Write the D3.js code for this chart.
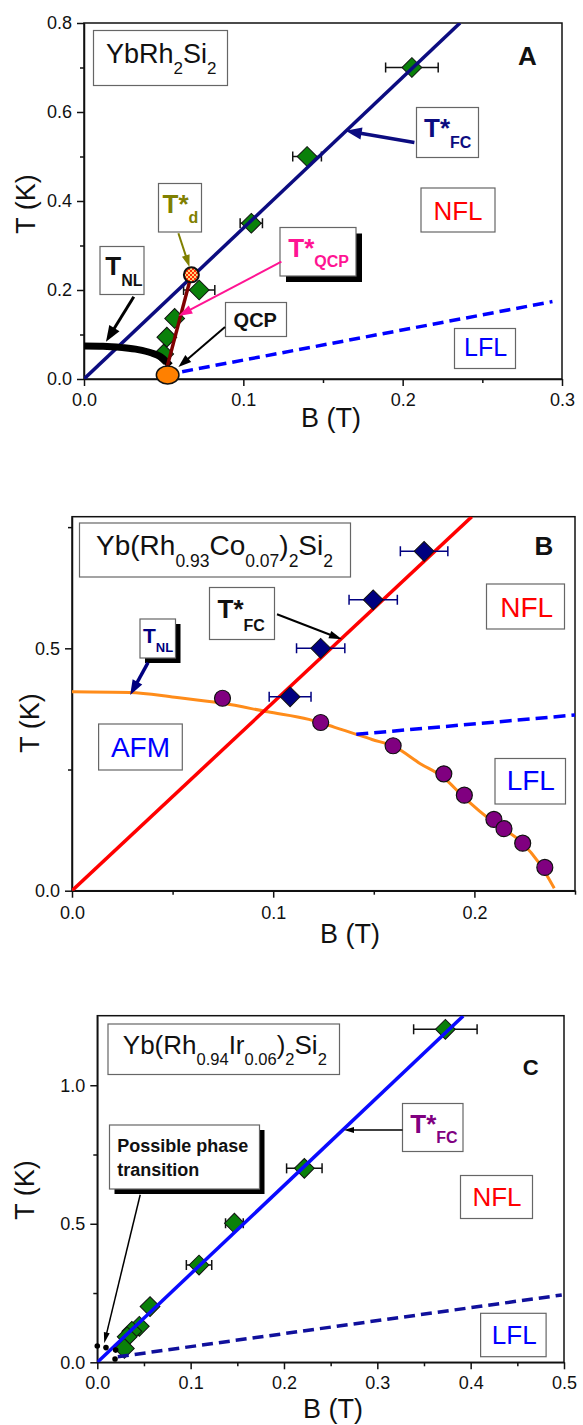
<!DOCTYPE html>
<html><head><meta charset="utf-8">
<script src="https://cdn.jsdelivr.net/npm/d3@7"></script>
<style>
body{margin:0;background:#fff}
svg{display:block}
text{font-family:"Liberation Sans",Arial,Helvetica,sans-serif}
</style>
</head><body>
<svg id="c" width="583" height="1425"></svg>
<script>
// ---------------- DATA ----------------
// Panel A : YbRh2Si2
const aTickX=[0,0.1,0.2,0.3], aMinorX=[0.05,0.15,0.25];
const aTickY=[0,0.2,0.4,0.6,0.8], aMinorY=[0.1,0.3,0.5,0.7];
const aFieldB=[0.2058,0.140,0.105,0.0723,0.0569,0.052,0.050];
const aTempT =[0.70,0.50,0.35,0.20,0.136,0.094,0.056];
const aErrB  =[0.0165,0.009,0.007,0.0098,0,0,0];
const aFcLine=[[0,0],[0.236,0.8]];
const aTnlCurve=[[0,0.074],[0.012,0.0735],[0.024,0.0705],[0.034,0.066],[0.042,0.059],[0.048,0.05],[0.052,0.038],[0.054,0.03]];
const aQcpLine=[[0.052,0.025],[0.0674,0.234]];
const aLflLine=[[0.0616,0.0165],[0.294,0.174]];
const aQcpPoint=[0.0525,0.009];
const aTdPoint=[0.0674,0.234];

// Panel B : Yb(Rh0.93Co0.07)2Si2
const bTickX=[0,0.1,0.2], bMinorX=[0.05,0.15,0.25];
const bTickY=[0,0.5], bMinorY=[0.25,0.75];
const bFieldB=[0.1084,0.1236,0.1497,0.175];
const bTempT =[0.40,0.50,0.60,0.70];
const bErrB  =[0.0104,0.012,0.012,0.0118];
const bFcLine=[[0,0],[0.1987,0.7715]];
const bAfmB=[0.0748,0.1236,0.1596,0.1848,0.195,0.2097,0.2147,0.224,0.235];
const bAfmT=[0.397,0.347,0.299,0.241,0.197,0.147,0.128,0.098,0.048];
const bTnlCurve=[[0,0.4105],[0.0289,0.409],[0.0511,0.399],[0.0751,0.3865],[0.0973,0.369],[0.1177,0.3535],[0.1306,0.337],[0.1491,0.312],[0.1602,0.297],[0.1731,0.262],[0.1842,0.235],[0.1953,0.1905],[0.2101,0.139],[0.2231,0.101],[0.2323,0.0565],[0.2397,0.005]];
const bLflLine=[[0.1413,0.3226],[0.25,0.3624]];

// Panel C : Yb(Rh0.94Ir0.06)2Si2
const cTickX=[0,0.1,0.2,0.3,0.4,0.5], cMinorX=[0.05,0.15,0.25,0.35,0.45];
const cTickY=[0,0.5,1.0], cMinorY=[0.25,0.75];
const cFieldB=[0.3729,0.2218,0.1469,0.109,0.0565,0.045,0.037,0.032,0.029];
const cTempT =[1.202,0.700,0.502,0.351,0.201,0.130,0.112,0.092,0.050];
const cErrB  =[0.034,0.019,0.0095,0.0136,0,0,0,0,0];
const cFcLine=[[0,0],[0.392,1.25]];
const cLflLine=[[0.022,0.02],[0.4976,0.243]];
const cDotB=[0,0.0093,0.0197,0.019];
const cDotT=[0.059,0.053,0.044,0.012];

// ---------------- HELPERS ----------------
const svg=d3.select('#c');
const defs=svg.append('defs');
const pat=defs.append('pattern').attr('id','chk').attr('width',4).attr('height',4).attr('patternUnits','userSpaceOnUse');
pat.append('rect').attr('width',4).attr('height',4).attr('fill','#ffd27a');
pat.append('rect').attr('width',2).attr('height',2).attr('fill','#ff2a00');
pat.append('rect').attr('x',2).attr('y',2).attr('width',2).attr('height',2).attr('fill','#ff2a00');

const fmt=d3.format('.1f');

function makePanel(p){
  const x=d3.scaleLinear().domain(p.xDom).range(p.xRng);
  const y=d3.scaleLinear().domain(p.yDom).range(p.yRng);
  const g=svg.append('g');
  const cid='clip'+p.id;
  defs.append('clipPath').attr('id',cid).append('rect')
    .attr('x',p.xRng[0]).attr('y',p.yRng[1]).attr('width',p.xRng[1]-p.xRng[0]).attr('height',p.yRng[0]-p.yRng[1]);
  const ax=g.append('g').attr('transform',`translate(0,${p.yRng[0]})`)
    .call(d3.axisBottom(x).tickValues(p.tickX).tickFormat(fmt).tickSize(7).tickSizeOuter(0).tickPadding(p.xPad));
  const axm=g.append('g').attr('transform',`translate(0,${p.yRng[0]})`)
    .call(d3.axisBottom(x).tickValues(p.minorX).tickFormat('').tickSize(4).tickSizeOuter(0));
  axm.select('.domain').remove();
  const ay=g.append('g').attr('transform',`translate(${p.xRng[0]},0)`)
    .call(d3.axisLeft(y).tickValues(p.tickY).tickFormat(fmt).tickSize(7).tickSizeOuter(0).tickPadding(5));
  const aym=g.append('g').attr('transform',`translate(${p.xRng[0]},0)`)
    .call(d3.axisLeft(y).tickValues(p.minorY).tickFormat('').tickSize(4).tickSizeOuter(0));
  aym.select('.domain').remove();
  [ax,axm,ay,aym].forEach(a=>{
    a.attr('color','#111');
    a.selectAll('line,path').attr('stroke-width',1.5);
    a.selectAll('text').attr('font-size',18);
  });
  g.append('rect').attr('x',p.xRng[0]).attr('y',p.yRng[1]).attr('width',p.xRng[1]-p.xRng[0]).attr('height',p.yRng[0]-p.yRng[1])
    .attr('fill','none').attr('stroke','#111').attr('stroke-width',1.5);
  g.append('text').attr('x',p.xt[0]).attr('y',p.xt[1]).attr('text-anchor','middle').attr('font-size',27).attr('fill','#111').text('B (T)');
  g.append('text').attr('transform',`translate(${p.yt[0]},${p.yt[1]}) rotate(-90)`).attr('text-anchor','middle').attr('font-size',27).attr('fill','#111').text('T (K)');
  const plot=g.append('g').attr('clip-path',`url(#${cid})`);
  return {x,y,g,plot};
}
const line=(P)=>d3.line().x(d=>P.x(d[0])).y(d=>P.y(d[1]));
const curve=(P)=>d3.line().curve(d3.curveMonotoneX).x(d=>P.x(d[0])).y(d=>P.y(d[1]));

function diamonds(P,B,T,E,fill,errColor){
  const gg=P.plot.append('g');
  B.forEach((b,i)=>{
    if(E[i]>0){
      const x0=P.x(b-E[i]),x1=P.x(b+E[i]),yy=P.y(T[i]);
      gg.append('line').attr('x1',x0).attr('x2',x1).attr('y1',yy).attr('y2',yy).attr('stroke',errColor).attr('stroke-width',1.5);
      [x0,x1].forEach(xx=>gg.append('line').attr('x1',xx).attr('x2',xx).attr('y1',yy-5).attr('y2',yy+5).attr('stroke',errColor).attr('stroke-width',1.5));
    }
  });
  const sym=d3.symbol().type(d3.symbolSquare).size(196);
  B.forEach((b,i)=>{
    gg.append('path').attr('d',sym()).attr('transform',`translate(${P.x(b)},${P.y(T[i])}) rotate(45)`)
      .attr('fill',fill).attr('stroke','#111').attr('stroke-width',1);
  });
}
function box(g,b,shadow){
  if(shadow) g.append('rect').attr('x',b[0]+shadow).attr('y',b[1]+shadow).attr('width',b[2]).attr('height',b[3]).attr('fill','#000');
  g.append('rect').attr('x',b[0]).attr('y',b[1]).attr('width',b[2]).attr('height',b[3]).attr('fill','#fff').attr('stroke','#666').attr('stroke-width',1.2);
}
function rich(g,x,y,parts,color,weight,sub){
  const t=g.append('text').attr('x',x).attr('y',y).attr('fill',color).attr('font-weight',weight||'normal');
  let prev=0;
  parts.forEach(p=>{
    const off=p[2]?sub:0;
    t.append('tspan').attr('font-size',p[1]).attr('dy',off-prev).text(p[0]);
    prev=off;
  });
}
function arrow(g,x1,y1,x2,y2,color,w,hl,hw){
  const a=Math.atan2(y2-y1,x2-x1),c=Math.cos(a),s=Math.sin(a);
  const bx=x2-hl*c,by=y2-hl*s;
  g.append('line').attr('x1',x1).attr('y1',y1).attr('x2',bx+c*1).attr('y2',by+s*1).attr('stroke',color).attr('stroke-width',w);
  g.append('path').attr('d',`M${x2},${y2}L${bx+hw/2*s},${by-hw/2*c}L${bx-hw/2*s},${by+hw/2*c}Z`).attr('fill',color);
}

// ---------------- PANEL A ----------------
const A=makePanel({id:'A',xDom:[0,0.3],xRng:[84,562],yDom:[0,0.8],yRng:[379,23],
  tickX:aTickX,minorX:aMinorX,tickY:aTickY,minorY:aMinorY,xPad:7,xt:[331,427],yt:[35,204]});
diamonds(A,aFieldB,aTempT,aErrB,'#0a800a','#111');
A.plot.append('path').attr('d',line(A)(aFcLine)).attr('stroke','#0c0c80').attr('stroke-width',3.5).attr('fill','none');
A.plot.append('path').attr('d',curve(A)(aTnlCurve)).attr('stroke','#000').attr('stroke-width',7).attr('fill','none');
A.plot.append('path').attr('d',line(A)(aQcpLine)).attr('stroke','#800000').attr('stroke-width',3.5).attr('fill','none');
A.plot.append('path').attr('d',line(A)(aLflLine)).attr('stroke','#0000ff').attr('stroke-width',3.5).attr('stroke-dasharray','11,6').attr('fill','none');
A.g.append('ellipse').attr('cx',A.x(aQcpPoint[0])).attr('cy',A.y(aQcpPoint[1])).attr('rx',11.3).attr('ry',9).attr('fill','#ff8000').attr('stroke','#111').attr('stroke-width',1.5);
A.g.append('circle').attr('cx',A.x(aTdPoint[0])).attr('cy',A.y(aTdPoint[1])).attr('r',7.5).attr('fill','url(#chk)').attr('stroke','#111').attr('stroke-width',2);
{
  const g=A.g;
  box(g,[93.5,30.5,134,55]);
  rich(g,106,63,[['YbRh',27],['2',17,1],['Si',27],['2',17,1]],'#111','normal',11);
  g.append('text').attr('x',518).attr('y',65).attr('font-size',26).attr('font-weight','bold').attr('fill','#111').text('A');
  box(g,[416.5,107.5,62,50]);
  rich(g,424,136.7,[['T*',26],['FC',16,1]],'#0c0c80','bold',11.6);
  arrow(g,414.4,142.5,345.7,130.8,'#0c0c80',3.5,16,12);
  box(g,[421,188,74,44]);
  g.append('text').attr('x',433.4).attr('y',220).attr('font-size',26).attr('fill','#ff0000').text('NFL');
  box(g,[158.5,183.5,43,48.5]);
  rich(g,162.6,212.7,[['T*',26],['d',16,1]],'#808000','bold',10);
  arrow(g,178.4,233.3,189.5,267,'#808000',2,12,8);
  box(g,[280,227.5,76,48.5],6);
  rich(g,288.3,256.7,[['T*',26],['QCP',16,1]],'#ff1493','bold',10);
  arrow(g,281.4,261.7,178.4,316,'#ff1493',2,14,9);
  box(g,[100,246.5,44,48]);
  rich(g,105.3,275,[['T',26],['NL',16,1]],'#111','bold',11);
  arrow(g,133.8,296.7,106,341.8,'#000',3,16,12);
  box(g,[225.5,302.5,61,34]);
  g.append('text').attr('x',233.6).attr('y',326.7).attr('font-size',20).attr('font-weight','bold').attr('fill','#111').text('QCP');
  arrow(g,225,326.9,178.4,367,'#000',2,13,9);
  box(g,[454.5,328.5,61,40]);
  g.append('text').attr('x',464).attr('y',356).attr('font-size',25).attr('fill','#0000ff').text('LFL');
}

// ---------------- PANEL B ----------------
const Bp=makePanel({id:'B',xDom:[0,0.25],xRng:[72,575],yDom:[0,0.7715],yRng:[890.7,516.7],
  tickX:bTickX,minorX:bMinorX,tickY:bTickY,minorY:bMinorY,xPad:8.5,xt:[350,943],yt:[38.5,723]});
Bp.plot.append('path').attr('d',curve(Bp)(bTnlCurve)).attr('stroke','#ff8c1a').attr('stroke-width',3).attr('fill','none');
Bp.plot.append('path').attr('d',line(Bp)(bLflLine)).attr('stroke','#0000ff').attr('stroke-width',3.5).attr('stroke-dasharray','12,6').attr('fill','none');
Bp.plot.append('path').attr('d',line(Bp)(bFcLine)).attr('stroke','#ff0000').attr('stroke-width',3.5).attr('fill','none');
diamonds(Bp,bFieldB,bTempT,bErrB,'#000080','#000080');
Bp.plot.append('g').selectAll('circle').data(bAfmB).join('circle')
  .attr('cx',d=>Bp.x(d)).attr('cy',(d,i)=>Bp.y(bAfmT[i])).attr('r',8).attr('fill','#800080').attr('stroke','#111').attr('stroke-width',1.2);
{
  const g=Bp.g;
  box(g,[79.5,523,271,54]);
  rich(g,96,555,[['Yb(Rh',28],['0.93',17.5,1],['Co',28],['0.07',17.5,1],[')',28],['2',17.5,1],['Si',28],['2',17.5,1]],'#111','normal',12);
  g.append('text').attr('x',534.6).attr('y',555).attr('font-size',26).attr('font-weight','bold').attr('fill','#111').text('B');
  box(g,[209.5,587.5,65,52]);
  rich(g,217.6,618.3,[['T*',26],['FC',16,1]],'#111','bold',12.4);
  arrow(g,277,614.3,342,639.3,'#000',2,13,8);
  box(g,[486.5,584,78,45]);
  g.append('text').attr('x',500.3).attr('y',616.7).attr('font-size',28).attr('fill','#ff0000').text('NFL');
  box(g,[140,619,35.5,39],5);
  rich(g,143,643.3,[['T',21],['NL',13,1]],'#000080','bold',8.4);
  arrow(g,148,662.7,130.2,695,'#000080',3.5,15,11);
  box(g,[98.6,724,83.7,46]);
  g.append('text').attr('x',110.9).attr('y',756.7).attr('font-size',28).attr('fill','#0000ff').text('AFM');
  box(g,[495,758.5,70.5,45.5]);
  g.append('text').attr('x',506.7).attr('y',790).attr('font-size',28).attr('fill','#0000ff').text('LFL');
}

// ---------------- PANEL C ----------------
const C=makePanel({id:'C',xDom:[0,0.5],xRng:[97.3,564],yDom:[0,1.251],yRng:[1362.3,1015.7],
  tickX:cTickX,minorX:cMinorX,tickY:cTickY,minorY:cMinorY,xPad:7,xt:[333,1418],yt:[34,1190]});
diamonds(C,cFieldB,cTempT,cErrB,'#0a800a','#111');
C.plot.append('path').attr('d',line(C)(cFcLine)).attr('stroke','#0a0aff').attr('stroke-width',3.5).attr('fill','none');
C.plot.append('path').attr('d',line(C)(cLflLine)).attr('stroke','#10109c').attr('stroke-width',3.5).attr('stroke-dasharray','11,6').attr('fill','none');
C.g.append('g').selectAll('circle').data(cDotB).join('circle')
  .attr('cx',d=>C.x(d)).attr('cy',(d,i)=>C.y(cDotT[i])).attr('r',2.8).attr('fill','#000');
{
  const g=C.g;
  box(g,[108,1024,231.5,50.5]);
  rich(g,122.8,1054.3,[['Yb(Rh',26],['0.94',16.5,1],['Ir',26],['0.06',16.5,1],[')',26],['2',16.5,1],['Si',26],['2',16.5,1]],'#111','normal',10.7);
  g.append('text').attr('x',522.7).attr('y',1075).attr('font-size',22).attr('font-weight','bold').attr('fill','#111').text('C');
  box(g,[402.5,1103.5,60.5,48]);
  rich(g,410.3,1132.7,[['T*',26],['FC',16,1]],'#800080','bold',10.6);
  arrow(g,402.5,1130,344,1130,'#000',1.5,10,6);
  box(g,[109.5,1125,150,64],5);
  g.append('text').attr('x',117.2).attr('y',1152.3).attr('font-size',18).attr('font-weight','bold').attr('fill','#111').text('Possible phase');
  g.append('text').attr('x',117.2).attr('y',1176).attr('font-size',18).attr('font-weight','bold').attr('fill','#111').text('transition');
  arrow(g,140.2,1194.7,104.2,1343.3,'#000',1.5,11,6);
  box(g,[460.5,1175.5,72,43]);
  g.append('text').attr('x',472.4).attr('y',1206).attr('font-size',26).attr('fill','#ff0000').text('NFL');
  box(g,[480.6,1313.3,65.5,43.4]);
  g.append('text').attr('x',491.8).attr('y',1344).attr('font-size',26).attr('fill','#0000ff').text('LFL');
}
</script>
</body></html>
